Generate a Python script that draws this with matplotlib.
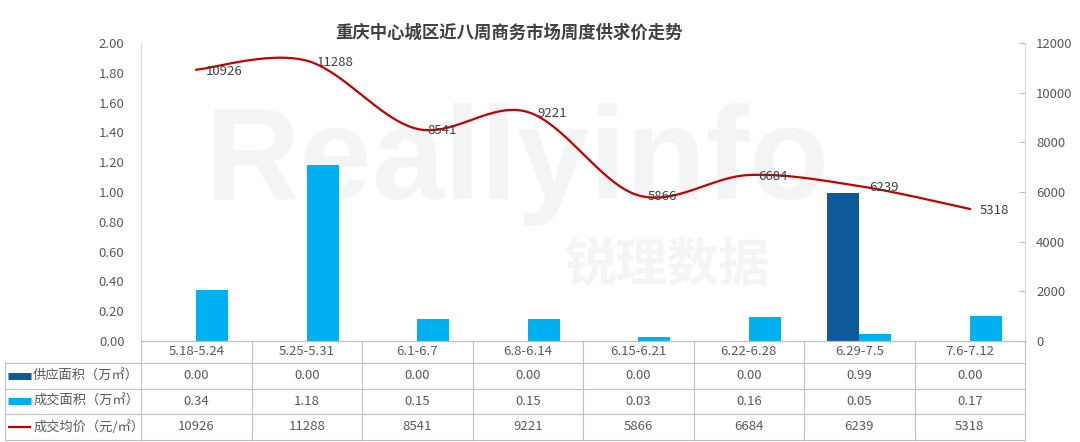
import numpy as np
import matplotlib
matplotlib.use('Agg')
from matplotlib import pyplot as plt
from matplotlib.transforms import blended_transform_factory

plt.rcParams['font.family'] = ['Noto Sans CJK SC', 'DejaVu Sans']

weeks = ['5.18-5.24', '5.25-5.31', '6.1-6.7', '6.8-6.14',
         '6.15-6.21', '6.22-6.28', '6.29-7.5', '7.6-7.12']
supply = [0.00, 0.00, 0.00, 0.00, 0.00, 0.00, 0.99, 0.00]
deal = [0.34, 1.18, 0.15, 0.15, 0.03, 0.16, 0.05, 0.17]
price = [10926, 11288, 8541, 9221, 5866, 6684, 6239, 5318]

row_names = ['供应面积（万㎡）', '成交面积（万㎡）', '成交均价（元/㎡）']
title = '重庆中心城区近八周商务市场周度供求价走势'

c_dark = '#0F5A9A'
c_light = '#00B0F0'
c_red = '#C00000'
c_text = '#595959'
c_grid = '#BFBFBF'


def smooth(xs, ys, n=40):
    # excel-like smoothed line: cubic bezier with catmull-rom control points
    p = np.column_stack([xs, ys]).astype(float)
    p = np.vstack([p[0], p, p[-1]])
    out = []
    for i in range(1, len(p) - 2):
        p0, p3 = p[i], p[i + 1]
        p1 = p0 + (p[i + 1] - p[i - 1]) / 6
        p2 = p3 - (p[i + 2] - p[i]) / 6
        t = np.linspace(0, 1, n)[:, None]
        seg = (1 - t) ** 3 * p0 + 3 * (1 - t) ** 2 * t * p1 + 3 * (1 - t) * t ** 2 * p2 + t ** 3 * p3
        out.append(seg if i == 1 else seg[1:])
    out = np.vstack(out)
    return out[:, 0], out[:, 1]


fig = plt.figure(figsize=(10.8, 4.42), dpi=100)
ax = fig.add_axes([0.1306, 0.2285, 0.8185, 0.6742])
ax2 = ax.twinx()

# watermark
fig.text(0.479, 0.627, 'Reallyinfo', fontsize=94, fontweight='bold', color='#f4f4f4',
         ha='center', va='center', zorder=0, family='Liberation Sans')
fig.text(0.618, 0.40, '锐理数据', fontsize=37, fontweight='bold', color='#f4f4f4',
         ha='center', va='center', zorder=0)

x = np.arange(len(weeks))
w = 0.29
ax.bar(x - w / 2, supply, w, color=c_dark, zorder=2)
ax.bar(x + w / 2, deal, w, color=c_light, zorder=2)

sx, sy = smooth(x, price)
ax2.plot(sx, sy, color=c_red, lw=1.6, zorder=3)
for xi, v in zip(x, price):
    ax2.annotate(str(v), (xi, v), xytext=(7, -1), textcoords='offset points',
                 ha='left', va='center', fontsize=9.5, color='#404040')

ax.set_xlim(-0.5, len(weeks) - 0.5)
ax.set_ylim(0, 2.0)
ax.set_yticks(np.arange(0, 2.01, 0.2))
ax.set_yticklabels(['%.2f' % v for v in np.arange(0, 2.01, 0.2)])
ax2.set_ylim(0, 12000)
ax2.set_yticks(range(0, 12001, 2000))
ax.set_xticks([])

ax.tick_params(axis='y', length=0, pad=12, labelsize=9.5, labelcolor=c_text)
ax2.tick_params(axis='y', direction='in', length=4, color=c_grid, pad=8,
                labelsize=9.5, labelcolor=c_text)
for a in (ax, ax2):
    a.spines['top'].set_visible(False)
    a.spines['left'].set_color('#D9D9D9')
    a.spines['right'].set_color('#D9D9D9')
    a.spines['bottom'].set_color(c_grid)
    a.patch.set_visible(False)
ax.set_zorder(1)
ax2.set_zorder(2)

fig.text(0.471, 0.927, title, fontsize=12.5, fontweight='bold', color='#404040',
         ha='center', va='center')

# data table under the axis
tr = blended_transform_factory(ax.transData, ax.transAxes)
rows_y = [0, -0.0738, -0.161, -0.245, -0.332]
left_x = -0.1538
kw = dict(color=c_grid, lw=0.8, clip_on=False)
for ry in rows_y[1:]:
    ax.plot([-0.5, len(weeks) - 0.5], [ry, ry], transform=tr, **kw)
    ax.plot([left_x, 0], [ry, ry], transform=ax.transAxes, **kw)
for b in np.arange(-0.5, len(weeks), 1.0):
    ax.plot([b, b], [rows_y[0], rows_y[-1]], transform=tr, **kw)
ax.plot([left_x, left_x], [rows_y[1], rows_y[-1]], transform=ax.transAxes, **kw)

for i, wk in enumerate(weeks):
    ax.text(i, (rows_y[0] + rows_y[1]) / 2, wk, transform=tr, ha='center', va='center',
            fontsize=9.5, color=c_text, clip_on=False)

table_vals = [['%.2f' % v for v in supply], ['%.2f' % v for v in deal], [str(v) for v in price]]
for r, vals in enumerate(table_vals):
    yc = (rows_y[r + 1] + rows_y[r + 2]) / 2
    for i, s in enumerate(vals):
        ax.text(i, yc, s, transform=tr, ha='center', va='center', fontsize=9.5,
                color=c_text, clip_on=False)
    ax.text(-0.1220, yc, row_names[r], transform=ax.transAxes, ha='left', va='center',
            fontsize=9.5, color=c_text, clip_on=False)

# legend keys in the table
key_x = [-0.1505, -0.1240]
y1 = (rows_y[1] + rows_y[2]) / 2
y2 = (rows_y[2] + rows_y[3]) / 2
y3 = (rows_y[3] + rows_y[4]) / 2
ax.plot(key_x, [y1, y1], transform=ax.transAxes, color=c_dark, lw=5, solid_capstyle='butt', clip_on=False)
ax.plot(key_x, [y2, y2], transform=ax.transAxes, color=c_light, lw=5, solid_capstyle='butt', clip_on=False)
ax.plot(key_x, [y3, y3], transform=ax.transAxes, color=c_red, lw=1.6, solid_capstyle='butt', clip_on=False)

fig.savefig('out.png', dpi=100)
